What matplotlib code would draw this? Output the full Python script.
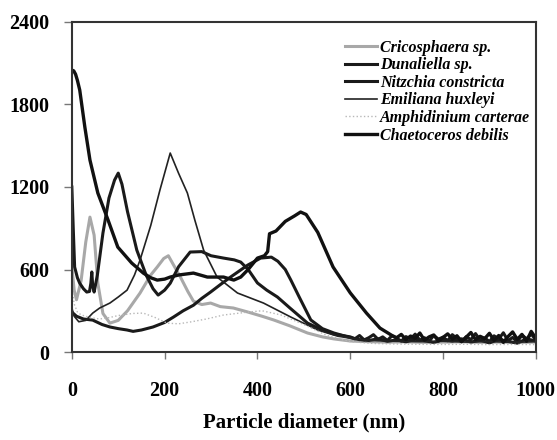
import matplotlib.pyplot as plt

#==============================
# Dados
#==============================
cric_x = [0, 5, 10, 20, 30, 39, 48, 56, 67, 82, 100, 120, 147, 170, 184, 198, 208, 218, 234, 250, 262, 280,
          299, 320, 348, 380, 410, 435, 470, 508, 540, 565, 600, 640, 680, 720, 760, 800, 840, 880, 920, 960, 1000]
cric_y = [620, 450, 380, 520, 800, 981, 850, 500, 280, 210, 230, 300, 429, 560, 618, 680, 700, 640, 545, 440, 370, 345,
          356, 330, 320, 290, 260, 233, 190, 138, 110, 95, 80, 75, 72, 74, 70, 72, 74, 70, 72, 69, 72]

dun_x = [0, 3, 6, 12, 17, 25, 32, 38, 41, 43, 45, 48, 55, 67, 80, 92, 100, 108, 120, 140, 160, 175, 186, 200,
         212, 230, 255, 280, 300, 327, 350, 364, 380, 400, 420, 443, 470, 508, 540, 565, 600,
         610, 620, 630, 640, 650, 660, 670, 680, 690, 700, 710, 720, 730, 740, 750, 760, 770, 780, 790, 800,
         810, 820, 830, 840, 850, 860, 870, 880, 890, 900, 910, 920, 930, 940, 950, 960, 970, 980, 990, 1000]
dun_y = [1200, 900, 618, 540, 500, 460, 436, 440, 500, 582, 480, 436, 560, 865, 1120, 1250, 1301, 1220, 1020, 741,
         560, 460, 414, 450, 500, 620, 727, 730, 700, 683, 670, 654, 600, 502, 450, 400, 320, 210, 160, 130, 110,
         96, 120, 88, 104, 126, 92, 110, 84, 118, 100, 80, 112, 96, 130, 86, 104, 78, 120, 94, 108,
         82, 126, 98, 74, 112, 90, 134, 86, 102, 76, 118, 94, 140, 82, 106, 72, 124, 96, 130, 88]

nitz_x = [0, 10, 25, 45, 65, 82, 100, 119, 132, 150, 175, 200, 219, 240, 262, 280, 299, 320, 342, 379, 407, 430,
          444, 460, 472, 490, 515, 540, 565, 600, 620, 640, 660, 680, 700, 720, 740, 760, 780, 800, 820, 840,
          860, 880, 900, 920, 940, 960, 980, 1000]
nitz_y = [290, 260, 240, 232, 200, 182, 170, 160, 150, 160, 182, 215, 254, 300, 340, 390, 436, 490, 545, 632, 683, 690,
          660, 600, 523, 400, 233, 170, 138, 105, 90, 84, 96, 78, 88, 74, 92, 82, 70, 90, 80, 96, 72, 86, 66, 92, 78, 64, 96, 80]

emil_x = [0, 5, 15, 30, 45, 60, 82, 100, 119, 135, 147, 170, 190, 212, 230, 249, 265, 284, 313, 357, 413, 472,
          530, 573, 620, 660, 700, 750, 800, 850, 900, 950, 1000]
emil_y = [320, 260, 220, 230, 283, 320, 356, 400, 450, 560, 669, 920, 1180, 1447, 1300, 1156, 960, 741, 545, 429,
          356, 254, 160, 115, 90, 82, 78, 75, 78, 72, 76, 70, 75]

amph_x = [0, 5, 12, 20, 40, 60, 80, 100, 130, 154, 180, 205, 230, 255, 290, 327, 379, 410, 450, 500, 550, 600,
          650, 700, 750, 800, 850, 900, 950, 1000]
amph_y = [480, 350, 290, 270, 250, 240, 250, 265, 280, 283, 250, 210, 205, 218, 240, 269, 290, 300, 270, 200,
          120, 75, 62, 58, 56, 55, 56, 54, 55, 54]

chae_x = [0, 4, 8, 12, 17, 28, 39, 56, 78, 99, 129, 154, 170, 184, 200, 212, 230, 262, 292, 327, 349,
          364, 380, 400, 415, 422, 426, 440, 460, 480, 493, 505, 530, 563, 600, 635, 664, 690,
          700, 710, 720, 730, 740, 750, 760, 770, 780, 790, 800, 810, 820, 830, 840, 850, 860, 870, 880,
          890, 900, 910, 920, 930, 940, 950, 960, 970, 980, 990, 1000]
chae_y = [2050, 2045, 2020, 1975, 1905, 1636, 1396, 1156, 960, 763, 647, 574, 540, 523, 530, 545, 560,
          574, 545, 545, 523, 545, 600, 683, 700, 730, 860, 880, 950, 990, 1018, 1000, 870, 618, 430, 283, 174,
          120, 104, 128, 90, 116, 100, 138, 86, 110, 124, 80, 106, 132, 94, 118, 76, 108, 142, 90, 114,
          98, 136, 84, 120, 70, 112, 146, 92, 128, 78, 150, 100]

especies = ['Cricosphaera sp.', 'Dunaliella sp.', 'Nitzchia constricta',
            'Emiliana huxleyi', 'Amphidinium carterae', 'Chaetoceros debilis']

#==============================
# Gráfico
#==============================
plt.rcParams['font.family'] = 'Liberation Serif'
plt.rcParams['font.weight'] = 'bold'

fig = plt.figure(figsize=(5.57, 4.40), dpi=100)
ax = fig.add_axes([0.129, 0.2, 0.833, 0.75])

ax.plot(cric_x, cric_y, color='#a8a8a8', lw=2.2, label=especies[0])
ax.plot(dun_x, dun_y, color='#1a1a1a', lw=2.2, label=especies[1])
ax.plot(nitz_x, nitz_y, color='#1a1a1a', lw=2.2, label=especies[2])
ax.plot(emil_x, emil_y, color='#222222', lw=1.2, label=especies[3])
ax.plot(amph_x, amph_y, color='#b8b8b8', lw=1.0, ls=':', label=especies[4])
ax.plot(chae_x, chae_y, color='#111111', lw=2.4, label=especies[5])

ax.set_xlim(0, 1000)
ax.set_ylim(0, 2400)
ax.set_xticks([0, 200, 400, 600, 800, 1000])
ax.set_yticks([0, 600, 1200, 1800, 2400])
ax.tick_params(axis='x', direction='out', length=5, width=1, color='#777777', pad=16, labelsize=14.5)
ax.tick_params(axis='y', direction='out', length=6, width=1, color='#777777', pad=10, labelsize=14.5)
for s in ax.spines.values():
    s.set_linewidth(1.5)
    s.set_color('#333333')

ax.set_xlabel('Particle diameter (nm)', fontsize=15, fontweight='bold', labelpad=8)

leg = ax.legend(loc='upper right', bbox_to_anchor=(1.018, 0.99), frameon=False,
                handlelength=2.0, handletextpad=0.15, labelspacing=0.1,
                prop={'family': 'Liberation Serif', 'style': 'italic', 'weight': 'bold', 'size': 11.5})

plt.savefig('out.png', dpi=100)
